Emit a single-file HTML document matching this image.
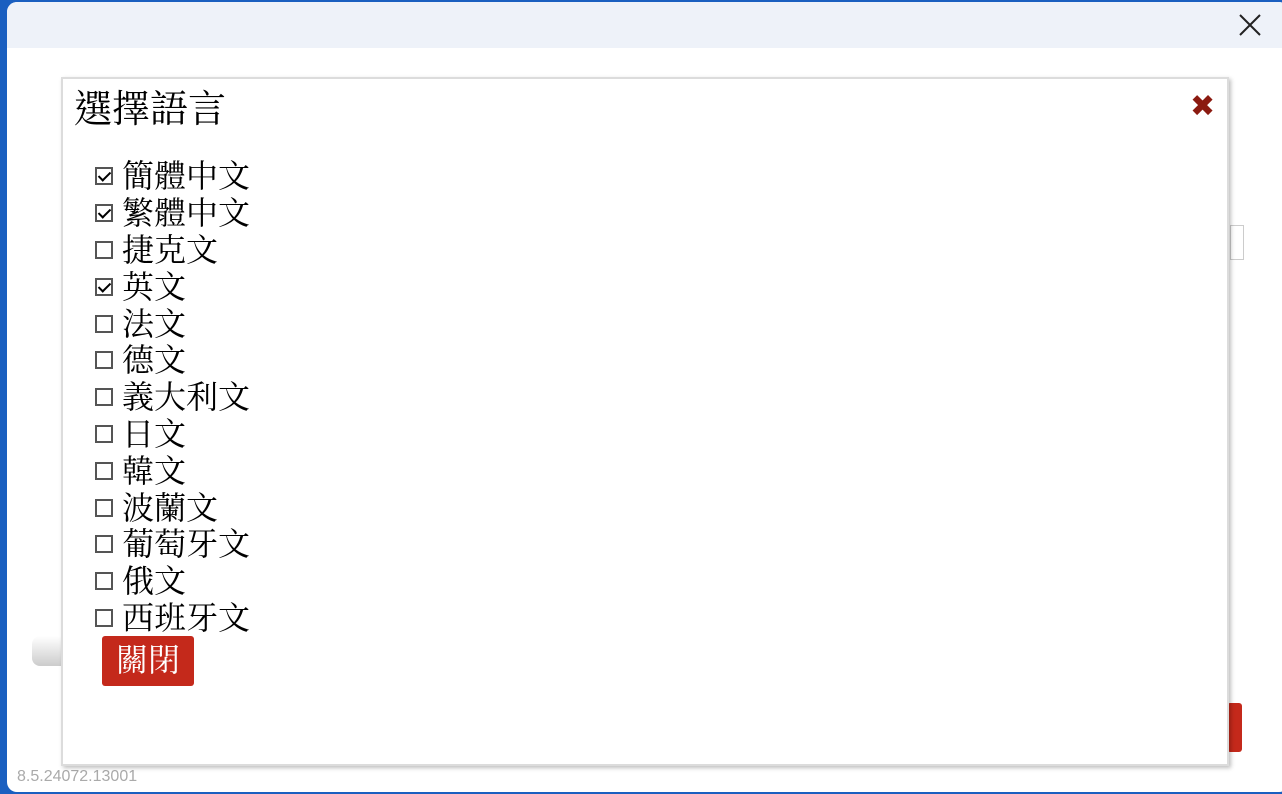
<!DOCTYPE html>
<html><head><meta charset="utf-8"><style>
*{margin:0;padding:0;box-sizing:border-box}
html,body{width:1282px;height:794px;overflow:hidden;background:#1a5fc0;position:relative}
.win{position:absolute;left:7px;top:2px;width:1282px;height:790px;background:#fff;border-radius:10px;overflow:hidden}
.tb{position:absolute;left:0;top:0;right:0;height:46px;background:#eef2f9}
.cls{position:absolute;left:1232px;top:12px;width:22px;height:22px}
.modal{position:absolute;left:61px;top:77px;width:1168px;height:689px;background:#fff;border:2px solid #dcdcdc;box-shadow:2px 2px 4px rgba(0,0,0,.25)}
.t{position:absolute;left:11px;top:6px;font:38px "Liberation Serif","Noto Serif CJK TC","Noto Serif CJK SC",serif;color:#000;line-height:50px}
.x{position:absolute;left:1127px;top:13px;font:bold 30px "DejaVu Sans",sans-serif;color:#8b1a10;line-height:30px}
.list{position:absolute;left:32px;top:77px}
.row{height:36.8px;display:flex;align-items:center;font:32px "Liberation Serif","Noto Serif CJK TC","Noto Serif CJK SC",serif;color:#000}
.cb{width:18px;height:18px;border:2px solid #555;margin-right:9px;position:relative;background:#fff;margin-top:4px}
.cb.c::after{content:"";position:absolute;left:4px;top:0px;width:5px;height:10px;border:solid #000;border-width:0 2.5px 2.5px 0;transform:rotate(45deg)}
.btn{position:absolute;left:39px;top:557px;width:92px;height:50px;background:#c4291b;border-radius:3px;color:#fff;font:32px "Liberation Serif","Noto Serif CJK TC",serif;text-align:center;line-height:48px}
</style></head><body>
<div class="win">
<div class="tb"></div>
<svg class="cls" viewBox="0 0 22 22"><path d="M1 1L21 21M21 1L1 21" stroke="#222" stroke-width="2"/></svg>
<div style="position:absolute;left:25px;top:634px;width:40px;height:30px;background:linear-gradient(#fff,#ccc);border-radius:8px"></div>
<div style="position:absolute;left:1223px;top:223px;width:14px;height:35px;border:1px solid #ccc"></div>
<div style="position:absolute;left:1220px;top:701px;width:15px;height:49px;background:#c4291b;border-radius:3px"></div>
<div style="position:absolute;left:10px;top:766px;font:16px 'Liberation Sans',sans-serif;color:#aaa">8.5.24072.13001</div>
</div>
<div class="modal">
<div class="t">選擇語言</div>
<div class="x">✖</div>
<div class="list">
<div class="row"><span class="cb c"></span>簡體中文</div>
<div class="row"><span class="cb c"></span>繁體中文</div>
<div class="row"><span class="cb"></span>捷克文</div>
<div class="row"><span class="cb c"></span>英文</div>
<div class="row"><span class="cb"></span>法文</div>
<div class="row"><span class="cb"></span>德文</div>
<div class="row"><span class="cb"></span>義大利文</div>
<div class="row"><span class="cb"></span>日文</div>
<div class="row"><span class="cb"></span>韓文</div>
<div class="row"><span class="cb"></span>波蘭文</div>
<div class="row"><span class="cb"></span>葡萄牙文</div>
<div class="row"><span class="cb"></span>俄文</div>
<div class="row"><span class="cb"></span>西班牙文</div>
</div>
<div class="btn">關閉</div>
</div>
</body></html>
